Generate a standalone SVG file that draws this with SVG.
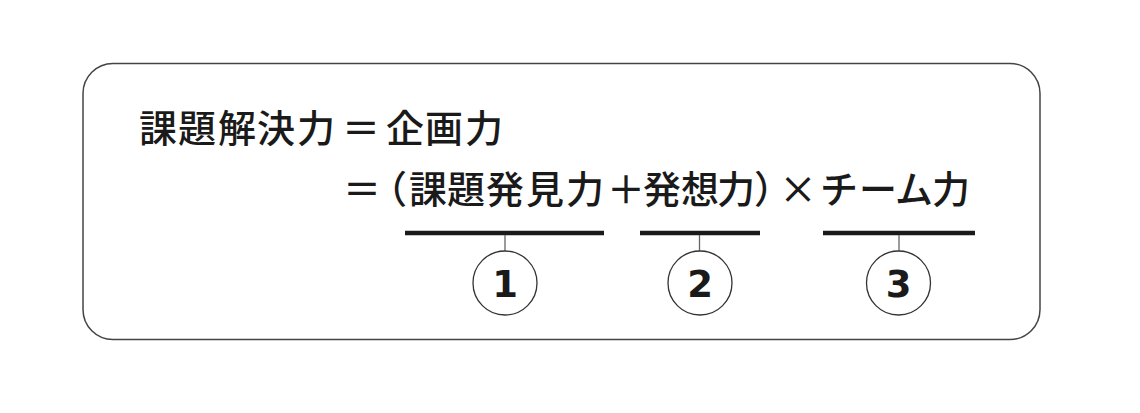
<svg xmlns="http://www.w3.org/2000/svg" width="1140" height="413" viewBox="0 0 1140 413">
<style>
.t{font-family:"Noto Sans CJK JP","Noto Sans",sans-serif;font-size:38px;font-weight:500;fill:#1a1a1a;text-anchor:middle}
.n{font-family:"DejaVu Sans","Liberation Sans",sans-serif;font-size:37px;font-weight:bold;fill:#1a1a1a;text-anchor:middle}
.bar{stroke:#1a1a1a;stroke-width:4.5}
.tick{stroke:#666;stroke-width:1.3}
.c{fill:#fff;stroke:#333;stroke-width:1.3}
</style>
<rect x="83" y="63.5" width="957" height="276" rx="30" fill="#fff" stroke="#444" stroke-width="1.5"/>
<g id="line1">
<text class="t" x="158 197 237 276 316 361 405 444 484" y="142">課題解決力＝企画力</text>
</g>
<g id="line2">
<text class="t" x="362 388 428 466 505 545 585 626 662 700 736 773 798 839 878 914 951" y="203">＝（課題発見力＋発想力）×チーム力</text>
</g>
<g id="connectors">
<line class="bar" x1="405" y1="233" x2="604" y2="233"/>
<line class="bar" x1="640" y1="233" x2="760" y2="233"/>
<line class="bar" x1="823" y1="233" x2="975" y2="233"/>
<line class="tick" x1="505" y1="235" x2="505" y2="251"/>
<line class="tick" x1="699.5" y1="235" x2="699.5" y2="251"/>
<line class="tick" x1="899" y1="235" x2="899" y2="251"/>
</g>
<g id="n1">
<ellipse class="c" cx="505" cy="283" rx="32" ry="32"/>
<text class="n" x="505" y="297">1</text>
</g>
<g id="n2">
<ellipse class="c" cx="700" cy="283" rx="32" ry="32"/>
<text class="n" x="700" y="297">2</text>
</g>
<g id="n3">
<ellipse class="c" cx="898.5" cy="283" rx="32" ry="32"/>
<text class="n" x="898.5" y="297">3</text>
</g>
</svg>
